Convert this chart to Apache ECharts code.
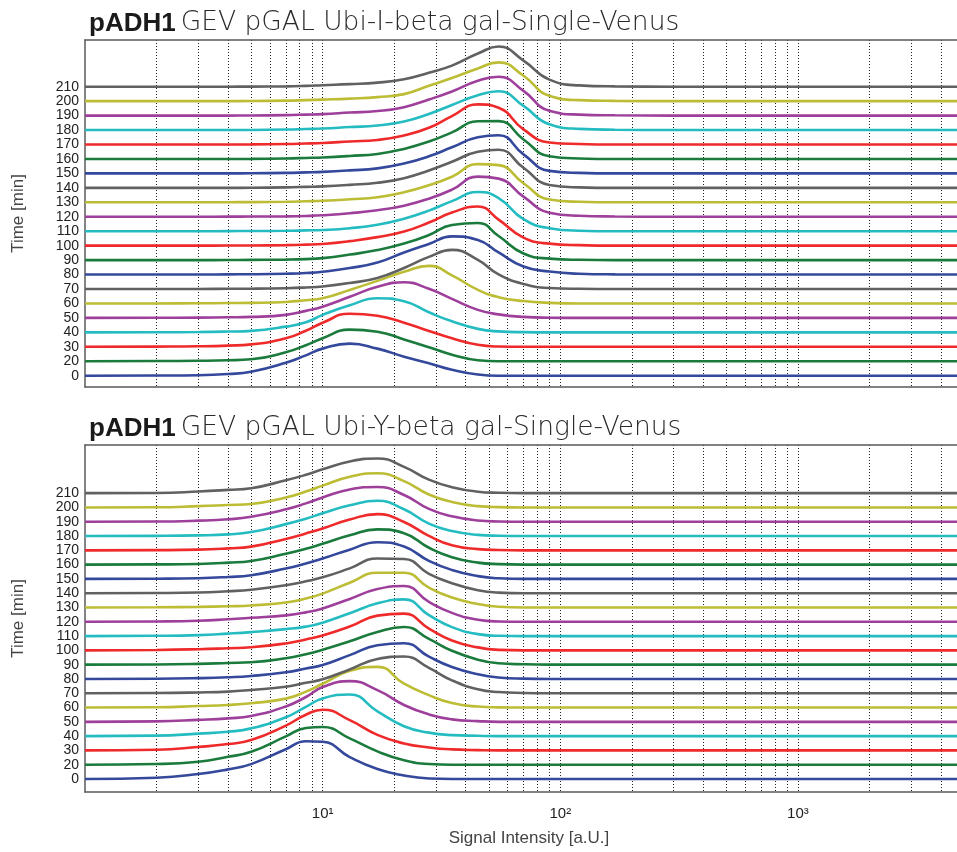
<!DOCTYPE html>
<html><head><meta charset="utf-8">
<script src="https://cdn.jsdelivr.net/npm/echarts@6/dist/echarts.min.js"></script>
<style>html,body{margin:0;padding:0;background:#fff}#c{width:957px;height:852px}</style>
</head><body><div id="c"></div>
<script>
// time labels of the ridge curves (bottom to top)
const times = [0,20,30,40,50,60,70,80,90,100,110,120,130,140,150,160,170,180,190,200,210];
// signal intensity sample points (a.U.)
const xs = [1,2,3,4,5,7,8.5,10,13,17,22,28,35,45,55,70,90,120,170,300,4670];
// x-axis decade labels and dotted grid values
const decadeLabels = [10,100,1000];
const gridVals = [2,3,4,5,6,7,8,9,10,20,30,40,50,60,70,80,90,100,200,300,400,500,600,700,800,900,1000,2000,3000,4000];

// Panel 1: Ubi-I-beta gal  (density heights per time point)
const I000 = [0,0.2,0.5,1.7,4,13,20.3,27,32,27,19,12.5,6,1.2,0,0,0,0,0,0,0];
const I020 = [0,0.2,0.5,1,2,9,16,23,31.5,29.5,21.8,14,6.5,1,0,0,0,0,0,0,0];
const I030 = [0,0.2,0.5,1.2,2.4,8.5,16,24,33,31,24,15.8,8.5,2,0.3,0,0,0,0,0,0];
const I040 = [0,0.1,0.3,0.8,1.5,5.7,10,17.4,27,34,31,20,11,3.5,1,0.2,0,0,0,0,0];
const I050 = [0,0.1,0.3,0.6,1,3,7,11.2,21,31,35.5,29,19,8,3.5,1,0.2,0,0,0,0];
const I060 = [0,0,0.2,0.4,0.6,1.5,3.2,5.2,13.5,22.5,31.5,37.5,28,13.5,6.3,2.4,0.6,0,0,0,0];
const I070 = [0,0,0,0.2,0.3,0.8,1.5,2.5,6,11,21,32,39,29,14.5,5,1,0.2,0,0,0];
const I080 = [0,0,0,0.2,0.3,0.8,1.5,2.8,6.5,12,22,30.5,38,34.5,22,8,3,0.8,0.2,0,0];
const I090 = [0,0,0,0.1,0.2,0.5,1,2,5.5,10,16.5,25,35,37,24,6.6,1.5,0.3,0,0,0];
const I100 = [0,0,0,0.1,0.2,0.5,1,1.7,4.5,8.5,14,23,33,39,26,8,2,0.5,0,0,0];
const I110 = [0,0,0,0.1,0.2,0.4,0.8,1.2,3,6.5,12.5,20.5,30,39,33,12,3,0.5,0,0,0];
const I120 = [0,0,0,0.1,0.2,0.4,0.8,1.5,3.5,6.5,11,18,27,40,38,20,4,1,0.3,0,0];
const I130 = [0,0,0,0.1,0.2,0.5,1,1.5,3,5,10,17,25.5,38,37,19,2.7,0.5,0,0,0];
const I140 = [0,0,0,0,0.1,0.5,1,1.5,3,5,9.6,17.3,26,36,38,20,2.8,0.5,0,0,0];
const I150 = [0,0,0,0,0.1,0.5,1,1.5,3,5,9.8,17,26,36,38,19,2.5,0.5,0,0,0];
const I160 = [0,0,0,0,0.1,0.5,1,1.5,3,5,10,17.3,26.5,37.5,37.7,19.4,2.7,0.5,0,0,0];
const I170 = [0,0,0,0,0.1,0.5,1,1.5,3,4.5,9,16.6,28.3,40,36.6,15,2,0.5,0,0,0];
const I180 = [0,0,0,0,0.1,0.5,1,1.5,3,4.5,8.5,16,25,34.7,38.7,24,5.7,1.2,0.3,0,0];
const I190 = [0,0,0,0,0.1,0.5,1,1.5,3,4.5,8.4,16,24,34.7,38.7,24.7,4.7,1,0.3,0,0];
const I200 = [0,0,0,0,0.1,0.5,1,1.5,2.5,4,7,15.3,23,32.6,38.6,25.3,5.3,1,0.3,0,0];
const I210 = [0,0,0,0,0.1,0.3,0.8,1.5,2.5,4,7.5,14,21,33,40,26,7,1.3,0.3,0,0];

// Panel 2: Ubi-Y-beta gal
const Y000 = [0,1.3,5,9.7,15,30,38,37.5,22,10,3.5,0.5,0,0,0,0,0,0,0,0,0];
const Y020 = [0,0.7,3,8,13,28.5,37,38,26.5,13.4,4.5,0.7,0,0,0,0,0,0,0,0,0];
const Y030 = [0,0.7,3.5,6.4,10.4,25,36,41,30.5,15.7,7,3,1,0.3,0,0,0,0,0,0,0];
const Y040 = [0,0.5,2.5,4.4,7.8,19,29.5,38,42,25,10,3.5,1,0.3,0,0,0,0,0,0,0];
const Y050 = [0,0.5,2,3.5,5.8,15.5,25,35,41,32,17,7.5,2.5,0.7,0,0,0,0,0,0,0];
const Y060 = [0,0.3,1.5,2.6,4.3,9,16,24,37,41,24,12.5,4.5,1,0.2,0,0,0,0,0,0];
const Y070 = [0,0.2,0.8,1.6,3.3,6.6,10.5,14,24,34.5,37,25.5,13,4,1.2,0.3,0,0,0,0,0];
const Y080 = [0,0.2,0.8,1.7,3,6.7,10.5,14,24,34,36,22.5,12,4.8,1.5,0.3,0,0,0,0,0];
const Y090 = [0,0.2,0.8,1.7,2.4,6.4,10.5,15,23.5,33,38,26,14,5,1.5,0.4,0,0,0,0,0];
const Y100 = [0,0.4,1.2,2.2,3.1,7,11,15,24,35,37,22,10,3,0.5,0,0,0,0,0,0];
const Y110 = [0,0.3,1,2.5,4,7,9.5,13.5,23,33,37,21,9,2,0.3,0,0,0,0,0,0];
const Y120 = [0,0.3,1,2.5,4,6.5,9.5,13.5,23,33,36,20,9,2,0.3,0,0,0,0,0,0];
const Y130 = [0,0.2,0.6,1.2,2,5,9,14,25,35,35,20,10,3.5,0.8,0,0,0,0,0,0];
const Y140 = [0,0.2,0.7,2,3.5,8,12,16,25,35,34.5,19.5,10,3,0.6,0,0,0,0,0,0];
const Y150 = [0,0.2,0.7,2,3.7,10.5,15.5,20.5,29.5,37,32.6,18.2,9,2.8,0.6,0,0,0,0,0,0];
const Y160 = [0,0.2,0.7,2,3.7,11,16,21,29.5,35.5,31.7,17,7.5,2,0.5,0,0,0,0,0,0];
const Y170 = [0,0.2,0.7,2,3.7,11.5,17,22,31,36.5,28.6,14.5,5,1.2,0.3,0,0,0,0,0,0];
const Y180 = [0,0.2,0.7,1.7,4,12,17.5,23,31,35.5,27,12.5,5,1.2,0.3,0,0,0,0,0,0];
const Y190 = [0,0.2,1.1,2.5,5,12.5,18.5,24.5,32.5,35,27,13,5.5,1.3,0.3,0,0,0,0,0,0];
const Y200 = [0,0.2,1.3,2.5,3.5,10,16,22,31,34.5,26.5,13,5.5,1.3,0.3,0,0,0,0,0,0];
const Y210 = [0,0.2,1.6,3.3,5,13,18.5,24,32,35,26.5,13.6,6,1.5,0.4,0,0,0,0,0,0];

const panelI = [I000,I020,I030,I040,I050,I060,I070,I080,I090,I100,I110,I120,I130,I140,I150,I160,I170,I180,I190,I200,I210];
const panelY = [Y000,Y020,Y030,Y040,Y050,Y060,Y070,Y080,Y090,Y100,Y110,Y120,Y130,Y140,Y150,Y160,Y170,Y180,Y190,Y200,Y210];

const STEP = 14.4; // vertical offset between ridges, in density units
const palette = ['#34489c','#1a7b3c','#ee2a2b','#25bcc1','#9d3f9b','#bcbd35','#616161'];
const FONT = '"Liberation Sans", Arial, Helvetica, sans-serif';

const chart = echarts.init(document.getElementById('c'), null, {renderer:'canvas'});

const grids = [
  {left:85, right:0, top:40, height:347},
  {left:85, right:0, top:445, height:347}
];
const yRanges = [[-0.78*STEP, 23.23*STEP], [-0.91*STEP, 23.37*STEP]];
const offsets = times.map((t,i)=>i*STEP);
const supMap = {1:'10\u00b9',2:'10\u00b2',3:'10\u00b3'};

function xAxisFor(gi, bottom){
  return {
    type:'log', logBase:10, gridIndex:gi, min:1, max:4670, position:'bottom',
    axisLine:{show:true, onZero:false, lineStyle:{color:'#5a5a5a', width:1.5}},
    axisTick:{show:false, customValues:gridVals},
    splitLine:{show:true, lineStyle:{color:'#222', width:1, type:[1,2]}},
    minorSplitLine:{show:false},
    axisLabel:{show:bottom, customValues:decadeLabels, color:'#222', fontSize:15, fontFamily:FONT, margin:14,
      formatter:v=>supMap[Math.round(Math.log10(v))]||''},
    name: bottom ? 'Signal Intensity [a.U.]' : '',
    nameLocation:'middle', nameGap:38,
    nameTextStyle:{color:'#444', fontSize:17, fontFamily:FONT, padding:[0,0,0,16]}
  };
}
function topAxisFor(gi){
  return {type:'value', gridIndex:gi, position:'top', min:0, max:1,
    axisLine:{show:true, onZero:false, lineStyle:{color:'#5a5a5a', width:1.5}},
    axisTick:{show:false}, axisLabel:{show:false}, splitLine:{show:false}};
}
function yAxisFor(gi){
  return {
    type:'value', gridIndex:gi, min:yRanges[gi][0], max:yRanges[gi][1],
    axisLine:{show:true, onZero:false, lineStyle:{color:'#5a5a5a', width:1.5}},
    axisTick:{show:false},
    splitLine:{show:false},
    axisLabel:{customValues:offsets, color:'#222', fontSize:14, fontFamily:FONT, margin:6,
      formatter:v=>String(times[Math.round(v/STEP)])},
    name:'Time [min]', nameLocation:'middle', nameGap:58,
    nameTextStyle:{color:'#444', fontSize:17, fontFamily:FONT}
  };
}

const series = [];
[panelI, panelY].forEach((panel, gi)=>{
  panel.forEach((h, i)=>{
    series.push({
      type:'line', xAxisIndex:gi*2, yAxisIndex:gi, showSymbol:false, silent:true,
      smooth:0.5, clip:true,
      lineStyle:{color:palette[i%7], width:2.6},
      data: xs.map((x,k)=>[x, offsets[i] + h[k]])
    });
  });
});

function titleText(name){
  return '{b|pADH1} {n|GEV pGAL ' + name + '-Single-Venus}';
}
const titleRich = {
  b:{fontWeight:'bold', fontSize:26, color:'#1a1a1a', fontFamily:FONT},
  n:{fontWeight:300, fontSize:26.5, color:'#2a2a2a', fontFamily:'"DejaVu Sans", sans-serif'}
};

chart.setOption({
  animation:false,
  backgroundColor:'#fff',
  title:[
    {left:84, top:5, text:titleText('Ubi-I-beta gal'), textStyle:{rich:titleRich}},
    {left:84, top:410, text:titleText('Ubi-Y-beta gal'), textStyle:{rich:titleRich}}
  ],
  grid:grids,
  xAxis:[xAxisFor(0,false), topAxisFor(0), xAxisFor(1,true), topAxisFor(1)],
  yAxis:[yAxisFor(0), yAxisFor(1)],
  series:series
});
</script></body></html>
